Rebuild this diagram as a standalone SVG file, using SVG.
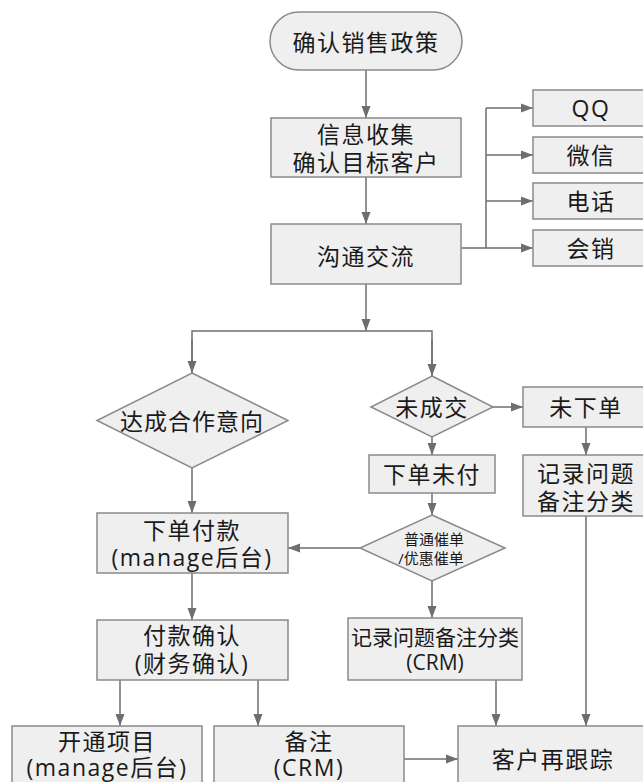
<svg xmlns="http://www.w3.org/2000/svg" width="643" height="782" viewBox="0 0 643 782">
<style>
.n{fill:#efefef;stroke:#8a8a8a;stroke-width:1.5}
.t{font-family:"Open Sans","Noto Sans CJK SC",sans-serif;font-size:23px;fill:#1a1a1a;text-anchor:middle;dominant-baseline:central;letter-spacing:1.5px}
.s{font-size:15px;letter-spacing:0}
.m{font-size:21px;letter-spacing:0}
.c{fill:none;stroke:#6e6e6e;stroke-width:1.5}
</style>
<defs>
<marker id="a" markerUnits="userSpaceOnUse" markerWidth="12" markerHeight="10" refX="12" refY="5" orient="auto">
<path d="M0,0.5 L12,5 L0,9.5 z" fill="#6e6e6e"/>
</marker>
</defs>
<rect width="643" height="782" fill="#fff"/>
<g id="connectors">
<path class="c" d="M366,70 V118" marker-end="url(#a)"/>
<path class="c" d="M366,177 V224" marker-end="url(#a)"/>
<path class="c" d="M461,248 H486 V108"/>
<path class="c" d="M486,108 H533" marker-end="url(#a)"/>
<path class="c" d="M486,155 H533" marker-end="url(#a)"/>
<path class="c" d="M486,201 H533" marker-end="url(#a)"/>
<path class="c" d="M486,248 H533" marker-end="url(#a)"/>
<path class="c" d="M366,284 V331" marker-end="url(#a)"/>
<path class="c" d="M192,373 V331 H432 V376"/>
<path class="c" d="M192,340 V373" marker-end="url(#a)"/>
<path class="c" d="M432,340 V376" marker-end="url(#a)"/>
<path class="c" d="M493,407 H523" marker-end="url(#a)"/>
<path class="c" d="M586,427 V455" marker-end="url(#a)"/>
<path class="c" d="M432,437 V455" marker-end="url(#a)"/>
<path class="c" d="M432,493 V515" marker-end="url(#a)"/>
<path class="c" d="M360,548 H288" marker-end="url(#a)"/>
<path class="c" d="M192,468 V513" marker-end="url(#a)"/>
<path class="c" d="M192,573 V620" marker-end="url(#a)"/>
<path class="c" d="M432,581 V618" marker-end="url(#a)"/>
<path class="c" d="M120,680 V726" marker-end="url(#a)"/>
<path class="c" d="M258,680 V726" marker-end="url(#a)"/>
<path class="c" d="M496,680 V726" marker-end="url(#a)"/>
<path class="c" d="M586,516 V726" marker-end="url(#a)"/>
<path class="c" d="M404,759 H458" marker-end="url(#a)"/>
</g>
<g id="start"><rect class="n" x="270" y="12" width="192" height="58" rx="29"/><text class="t" x="366" y="42">确认销售政策</text></g>
<g id="collect"><rect class="n" x="271" y="118" width="190" height="59"/><text class="t" x="366" y="134">信息收集</text><text class="t" x="366" y="162">确认目标客户</text></g>
<g id="communicate"><rect class="n" x="271" y="224" width="190" height="60"/><text class="t" x="366" y="256">沟通交流</text></g>
<g id="qq"><rect class="n" x="533" y="90" width="120" height="36"/><text class="t" x="591" y="108">QQ</text></g>
<g id="wechat"><rect class="n" x="533" y="137" width="120" height="36"/><text class="t" x="591" y="155">微信</text></g>
<g id="phone"><rect class="n" x="533" y="183" width="120" height="36"/><text class="t" x="591" y="201">电话</text></g>
<g id="meeting"><rect class="n" x="533" y="230" width="120" height="36"/><text class="t" x="591" y="248">会销</text></g>
<g id="intent"><polygon class="n" points="192,373 288,420.5 192,468 97,420.5"/><text class="t" x="192" y="421" style="letter-spacing:1px">达成合作意向</text></g>
<g id="nodeal"><polygon class="n" points="432,376 493,407 432,437 371,407"/><text class="t" x="432" y="407">未成交</text></g>
<g id="noorder"><rect class="n" x="523" y="387" width="126" height="40"/><text class="t" x="586" y="407">未下单</text></g>
<g id="unpaid"><rect class="n" x="369" y="455" width="126" height="38"/><text class="t" x="432" y="474">下单未付</text></g>
<g id="record1"><rect class="n" x="523" y="455" width="126" height="61"/><text class="t" x="586" y="473">记录问题</text><text class="t" x="586" y="501">备注分类</text></g>
<g id="remind"><polygon class="n" points="432,515 505,548 432,581 360,548"/><text class="t s" x="434" y="539">普通催单</text><text class="t s" x="431" y="558">/优惠催单</text></g>
<g id="pay"><rect class="n" x="97" y="513" width="191" height="60"/><text class="t" x="192" y="530">下单付款</text><text class="t" x="192" y="557">(manage后台)</text></g>
<g id="confirm"><rect class="n" x="97" y="620" width="191" height="60"/><text class="t" x="192" y="635">付款确认</text><text class="t" x="192" y="663">(财务确认)</text></g>
<g id="record2"><rect class="n" x="348" y="618" width="174" height="62"/><text class="t m" x="435" y="637">记录问题备注分类</text><text class="t m" x="435" y="662">(CRM)</text></g>
<g id="open"><rect class="n" x="12" y="726" width="190" height="70"/><text class="t" x="107" y="741">开通项目</text><text class="t" x="107" y="767">(manage后台)</text></g>
<g id="note"><rect class="n" x="214" y="726" width="190" height="70"/><text class="t" x="309" y="741">备注</text><text class="t" x="309" y="767">(CRM)</text></g>
<g id="follow"><rect class="n" x="458" y="726" width="192" height="70"/><text class="t" x="553" y="759">客户再跟踪</text></g>
</svg>
